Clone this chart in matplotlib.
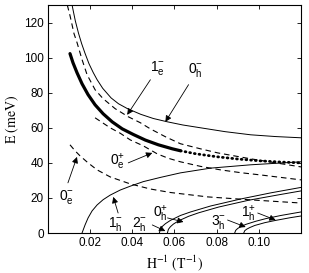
import matplotlib
matplotlib.use("Agg")
import matplotlib.pyplot as plt

plt.rcParams['font.family'] = ['Liberation Sans', 'DejaVu Sans']
plt.rcParams['mathtext.fontset'] = 'custom'
plt.rcParams['mathtext.rm'] = 'Liberation Sans'
plt.rcParams['mathtext.it'] = 'Liberation Sans:italic'
plt.rcParams['mathtext.bf'] = 'Liberation Sans:bold'
plt.rcParams['mathtext.default'] = 'regular'

# ---- data (x = 1/H in 1/T, y = E in meV) ----
h0m_x = [0.01143, 0.0119, 0.013, 0.0145, 0.016, 0.0176, 0.0195, 0.0215, 0.0233, 0.026, 0.030,
         0.0335, 0.0376, 0.044, 0.050, 0.0567, 0.064, 0.0724, 0.084, 0.0962, 0.108, 0.12]
h0m_y = [130.3, 127.4, 121.0, 114.0, 108.0, 102.5, 96.5, 91.5, 87.5, 82.5, 77.0,
         73.7, 71.0, 67.7, 65.3, 63.4, 61.6, 60.0, 57.8, 56.0, 55.0, 54.3]

e1m_x = [0.0092, 0.01048, 0.01143, 0.01238, 0.01381, 0.01619, 0.01857, 0.02238, 0.02619, 0.03190,
         0.03810, 0.04381, 0.04857, 0.05571, 0.06286, 0.07238, 0.08048, 0.09619, 0.12]
e1m_y = [130.0, 124.0, 118.9, 113.7, 108.6, 98.9, 90.3, 81.7, 76.6, 70.9,
         66.3, 62.9, 59.4, 54.9, 50.9, 48.0, 45.7, 42.3, 37.7]

thick_x = [0.01048, 0.01190, 0.01381, 0.01619, 0.01905, 0.02238, 0.02619, 0.03048, 0.03524,
           0.04048, 0.04619, 0.05238, 0.05905, 0.06286]
thick_y = [102.3, 97.1, 91.4, 85.1, 78.9, 73.1, 68.0, 63.4, 59.4, 56.2, 53.0, 50.3, 48.0, 46.9]
dots_x = [0.06286, 0.070, 0.080, 0.090, 0.100, 0.110, 0.12]
dots_y = [46.9, 45.2, 43.5, 42.2, 41.2, 40.5, 40.0]

e0p_x = [0.02238, 0.02952, 0.03429, 0.03905, 0.04524, 0.05190, 0.05714, 0.06286, 0.07238,
         0.08190, 0.09143, 0.10095, 0.11048, 0.12]
e0p_y = [65.7, 60.0, 56.9, 53.1, 49.7, 45.1, 42.6, 40.6, 38.0, 36.0, 34.4, 33.1, 31.7, 30.3]

e0m_x = [0.01048, 0.01286, 0.01524, 0.01905, 0.02333, 0.02952, 0.03905, 0.04857, 0.05810,
         0.07571, 0.09619, 0.12]
e0m_y = [50.3, 46.9, 44.0, 40.0, 36.0, 32.0, 28.0, 25.1, 23.1, 20.6, 18.9, 17.1]

h1m_x = [0.01619, 0.01762, 0.01905, 0.02095, 0.02333, 0.02619, 0.02952, 0.03429, 0.03905,
         0.04524, 0.05333, 0.06286, 0.07714, 0.09619, 0.12]
h1m_y = [0, 4.6, 8.6, 12.6, 16.0, 19.0, 21.6, 24.5, 26.7, 29.3, 31.7, 34.3, 37.0, 38.9, 40.6]

h2m_x = [0.05286, 0.05333, 0.05429, 0.05571, 0.05810, 0.06286, 0.06762, 0.07714, 0.09143,
         0.10571, 0.12]
h2m_y = [0, 2.2, 3.8, 5.3, 7.2, 10.0, 12.0, 15.4, 19.4, 22.9, 26.0]
h0p_x = [0.05667, 0.05714, 0.05810, 0.05952, 0.06190, 0.06667, 0.07143, 0.08095, 0.09524,
         0.10952, 0.12]
h0p_y = [0, 2.1, 3.6, 5.1, 6.9, 9.5, 11.5, 14.8, 18.7, 21.8, 24.0]

h3m_x = [0.08857, 0.08905, 0.09, 0.09143, 0.09381, 0.09857, 0.10333, 0.11048, 0.12]
h3m_y = [0, 1.5, 2.6, 3.6, 4.9, 6.7, 8.2, 10.0, 12.0]
h1p_x = [0.09286, 0.09333, 0.09429, 0.09571, 0.09810, 0.10286, 0.10762, 0.11476, 0.12]
h1p_y = [0, 1.3, 2.2, 3.1, 4.3, 5.9, 7.1, 8.7, 9.7]

x_ticks = [0.02, 0.04, 0.06, 0.08, 0.10]
x_ticklabels = ['0.02', '0.04', '0.06', '0.08', '0.10']
y_ticks = [0, 20, 40, 60, 80, 100, 120]

# labels: text, label position, arrow tail, arrow tip
labels = [
    (r'$1_{e}^{-}$', (0.0519, 94.3), (0.0486, 87.4), (0.0376, 67.4)),
    (r'$0_{h}^{-}$', (0.0700, 93.0), (0.0667, 84.6), (0.0557, 63.4)),
    (r'$0_{e}^{+}$', (0.0329, 40.6), (0.0381, 40.0), (0.0495, 45.7)),
    (r'$0_{e}^{-}$', (0.0090, 20.6), (0.0095, 28.6), (0.0138, 43.4)),
    (r'$1_{h}^{-}$', (0.0319, 5.0), (0.0333, 11.4), (0.0310, 20.6)),
    (r'$2_{h}^{-}$', (0.0433, 5.0), (0.0495, 4.6), (0.0557, 1.1)),
    (r'$0_{h}^{+}$', (0.0533, 11.0), (0.0567, 8.6), (0.0643, 6.3)),
    (r'$3_{h}^{-}$', (0.0810, 6.5), (0.0852, 7.4), (0.0938, 3.4)),
    (r'$1_{h}^{+}$', (0.0952, 11.0), (0.0995, 11.4), (0.1080, 7.4)),
]

fig = plt.figure(figsize=(3.09, 2.73), dpi=100)
ax = fig.add_axes([0.155, 0.1465, 0.819, 0.835])

thin = dict(color='k', lw=0.7)
dash = dict(color='k', lw=0.8, linestyle=(0, (5, 3.5)))

ax.plot(h0m_x, h0m_y, **thin)
ax.plot(e1m_x, e1m_y, **dash)
ax.plot(thick_x, thick_y, color='k', lw=2.3, solid_capstyle='round', solid_joinstyle='round')
ax.plot(dots_x, dots_y, color='k', lw=2.0, linestyle=(0, (0.3, 1.4)), dash_capstyle='round')
ax.plot(e0p_x, e0p_y, **dash)
ax.plot(e0m_x, e0m_y, **dash)
ax.plot(h1m_x, h1m_y, **thin)
ax.plot(h2m_x, h2m_y, **thin)
ax.plot(h0p_x, h0p_y, **thin)
ax.plot(h3m_x, h3m_y, **thin)
ax.plot(h1p_x, h1p_y, **thin)

for txt, lp, tail, tip in labels:
    ax.text(lp[0], lp[1], txt, fontsize=10, ha='center', va='center')
    ax.annotate('', xy=tip, xytext=tail,
                arrowprops=dict(arrowstyle='-|>', color='k', lw=0.6,
                                mutation_scale=9, shrinkA=0, shrinkB=0))

ax.set_xlim(0, 0.12)
ax.set_ylim(0, 130)
ax.set_xticks(x_ticks)
ax.set_xticklabels(x_ticklabels)
ax.set_yticks(y_ticks)
ax.tick_params(direction='in', top=True, right=True, labelsize=8.5,
               length=3, width=0.6, pad=3)
for s in ax.spines.values():
    s.set_linewidth(0.8)

ax.set_xlabel(r'$\mathrm{H^{-1}\ (T^{-1})}$', fontsize=10, math_fontfamily='stix', labelpad=3)
ax.set_ylabel(r'$\mathrm{E\ (meV)}$', fontsize=10, math_fontfamily='stix', labelpad=2)

fig.savefig('out.png', dpi=100)
